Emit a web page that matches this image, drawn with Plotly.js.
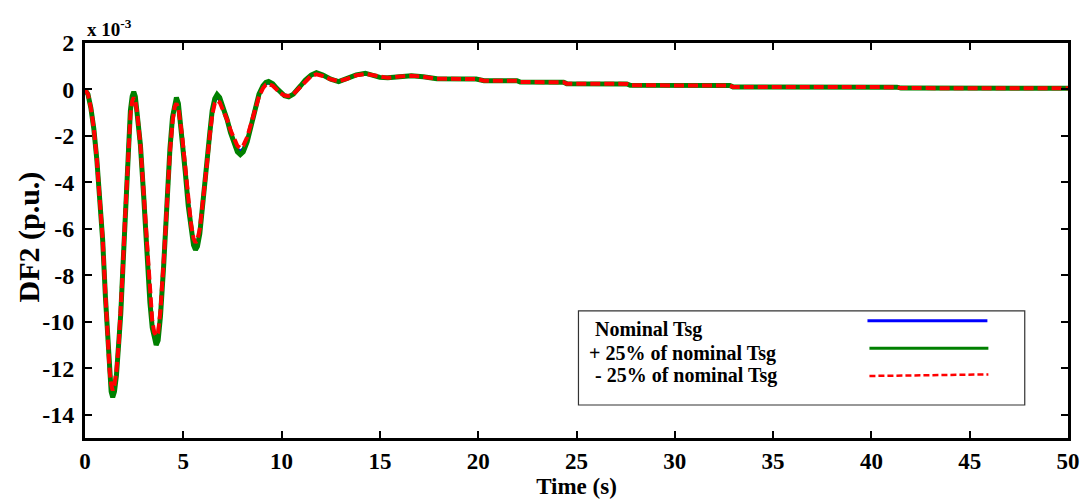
<!DOCTYPE html>
<html>
<head>
<meta charset="utf-8">
<script src="https://cdn.plot.ly/plotly-3.0.1.min.js"></script>
<style>html,body{margin:0;padding:0;background:#fff;}#chart{width:1083px;height:499px;}</style>
</head>
<body>
<div id="chart"></div>
<script>
// Time (s)
const time = [0,0.15,0.3,0.45,0.6,0.75,0.9,1.04,1.15,1.25,1.33,1.41,
1.5,1.6,1.72,1.82,1.92,2.02,2.12,2.22,2.31,2.4,2.48,
2.56,2.66,2.82,2.99,3.16,3.3,3.42,3.52,3.62,
3.72,3.84,4.0,4.18,4.32,4.45,4.56,4.65,
4.75,4.94,5.1,5.25,5.4,5.52,5.62,
5.72,5.84,5.96,6.1,6.21,6.35,6.47,6.6,6.72,
6.85,7.05,7.23,7.4,7.56,7.75,7.9,
8.05,8.25,8.45,8.65,8.85,9.05,9.2,9.34,
9.55,9.75,9.94,10.15,10.36,
10.6,10.96,11.2,11.5,11.77,
12.1,12.5,12.9,
13.3,13.8,14.26,
14.6,15.0,15.4,16.0,16.6,17.2,17.6,17.9,19.9,20.3,21.97,22.14,24.34,24.5,27.56,27.73,32.8,32.96,41.3,41.5,50];

// DF2 (x 10^-3 p.u.) — Nominal Tsg
const nominalTsg = [0,-0.2,-0.8,-1.7,-3.0,-4.6,-6.5,-8.9,-10.8,-12.2,-12.85,-13.1,
-12.85,-12.2,-11.0,-9.6,-7.8,-5.8,-3.8,-2.1,-1.0,-0.4,-0.22,
-0.4,-1.0,-2.4,-4.6,-7.2,-9.0,-10.1,-10.6,-10.8,
-10.6,-9.6,-7.5,-4.6,-2.6,-1.3,-0.65,-0.48,
-0.7,-2.0,-3.5,-4.9,-6.0,-6.55,-6.75,
-6.6,-6.1,-5.2,-4.1,-3.1,-1.9,-1.0,-0.5,-0.35,
-0.45,-0.85,-1.3,-1.8,-2.2,-2.55,-2.66,
-2.55,-2.15,-1.5,-0.8,-0.25,0.1,0.25,0.28,
0.2,0.02,-0.15,-0.27,-0.3,
-0.2,0.13,0.38,0.6,0.68,
0.6,0.44,0.35,
0.45,0.62,0.68,
0.62,0.52,0.5,0.56,0.59,0.55,0.48,0.46,0.45,0.38,0.38,0.32,0.31,0.25,0.24,0.18,0.17,0.11,0.1,0.06,0.05];

// + 25% of nominal Tsg
const plus25Tsg = [0,-0.2,-0.8,-1.7,-3.0,-4.6,-6.5,-8.95,-10.9,-12.3,-13.0,-13.25,
-13.0,-12.3,-11.1,-9.65,-7.8,-5.75,-3.7,-2.0,-0.9,-0.3,-0.1,
-0.3,-0.95,-2.4,-4.65,-7.3,-9.15,-10.25,-10.8,-11.0,
-10.8,-9.75,-7.6,-4.6,-2.55,-1.2,-0.55,-0.35,
-0.6,-2.0,-3.55,-5.0,-6.15,-6.7,-6.9,
-6.75,-6.2,-5.3,-4.1,-3.05,-1.85,-0.9,-0.4,-0.22,
-0.35,-0.8,-1.3,-1.85,-2.3,-2.68,-2.8,
-2.68,-2.25,-1.55,-0.8,-0.2,0.15,0.3,0.34,
0.25,0.05,-0.13,-0.27,-0.32,
-0.2,0.15,0.4,0.62,0.72,
0.62,0.44,0.34,
0.45,0.63,0.7,
0.62,0.52,0.5,0.56,0.59,0.55,0.48,0.46,0.45,0.38,0.38,0.32,0.31,0.25,0.24,0.18,0.17,0.11,0.1,0.06,0.05];

// - 25% of nominal Tsg
const minus25Tsg = [0,-0.2,-0.8,-1.7,-3.0,-4.6,-6.45,-8.85,-10.7,-12.1,-12.7,-12.95,
-12.7,-12.1,-10.9,-9.5,-7.8,-5.85,-3.9,-2.2,-1.1,-0.5,-0.35,
-0.5,-1.05,-2.4,-4.55,-7.1,-8.85,-9.95,-10.45,-10.6,
-10.45,-9.5,-7.45,-4.65,-2.7,-1.4,-0.75,-0.6,
-0.8,-2.0,-3.45,-4.8,-5.85,-6.4,-6.6,
-6.45,-6.0,-5.1,-4.1,-3.15,-1.95,-1.1,-0.6,-0.48,
-0.55,-0.9,-1.3,-1.75,-2.1,-2.42,-2.52,
-2.42,-2.05,-1.45,-0.8,-0.3,0.05,0.2,0.23,
0.16,0.0,-0.16,-0.26,-0.28,
-0.2,0.11,0.36,0.58,0.65,
0.58,0.44,0.36,
0.45,0.61,0.67,
0.62,0.52,0.5,0.56,0.59,0.55,0.48,0.46,0.45,0.38,0.38,0.32,0.31,0.25,0.24,0.18,0.17,0.11,0.1,0.06,0.05];

const xTicks = [0,5,10,15,20,25,30,35,40,45,50];
const yTicks = [2,0,-2,-4,-6,-8,-10,-12,-14];
const seriesNames = ['Nominal Tsg', '+ 25% of nominal Tsg', '- 25% of nominal Tsg'];

const FONT = 'Liberation Serif';

const traces = [
  {x: time, y: nominalTsg, mode: 'lines', name: seriesNames[0], line: {color: '#0000ff', width: 3}},
  {x: time, y: plus25Tsg, mode: 'lines', name: seriesNames[1], line: {color: '#008000', width: 5}},
  {x: time, y: minus25Tsg, mode: 'lines', name: seriesNames[2], line: {color: '#ff0000', width: 4, dash: '10px,4px'}}
];

const layout = {
  width: 1083, height: 499,
  margin: {l: 85, r: 15, t: 43, b: 61},
  paper_bgcolor: '#fff', plot_bgcolor: '#fff',
  font: {family: FONT, size: 22, color: '#000', weight: 700},
  showlegend: false,
  xaxis: {
    showgrid: false, zeroline: false, showline: true, linecolor: '#000', linewidth: 3,
    mirror: 'ticks', ticks: 'inside', ticklen: 7, tickwidth: 2, tickcolor: '#000',
    tickfont: {family: FONT, size: 23, color: '#000', weight: 'bold'}, tickmode: 'array',
    range: [0, 50], tickvals: xTicks, ticktext: xTicks.map(String),
    title: {text: 'Time (s)', font: {family: FONT, size: 23, color: '#000', weight: 700}, standoff: 3}
  },
  yaxis: {
    showgrid: false, zeroline: false, showline: true, linecolor: '#000', linewidth: 3,
    mirror: 'ticks', ticks: 'inside', ticklen: 7, tickwidth: 2, tickcolor: '#000',
    tickfont: {family: FONT, size: 24, color: '#000', weight: 'bold'}, tickmode: 'array',
    range: [-15, 2], tickvals: yTicks, ticktext: yTicks.map(String), ticklabelstandoff: 3
  },
  shapes: [
    {type: 'rect', xref: 'paper', yref: 'paper', x0: 0.502, x1: 0.956, y0: 0.0835, y1: 0.322,
     line: {color: '#333', width: 1.2}, fillcolor: '#fff', layer: 'above'},
    {type: 'line', xref: 'paper', yref: 'paper', x0: 0.796, x1: 0.918, y0: 0.297, y1: 0.297,
     line: {color: '#0000ff', width: 3}},
    {type: 'line', xref: 'paper', yref: 'paper', x0: 0.798, x1: 0.919, y0: 0.227, y1: 0.227,
     line: {color: '#008000', width: 3}},
    {type: 'line', xref: 'paper', yref: 'paper', x0: 0.798, x1: 0.919, y0: 0.157, y1: 0.161,
     line: {color: '#ff0000', width: 2.5, dash: '6px,3px'}}
  ],
  annotations: [
    {xref: 'paper', yref: 'paper', x: 0.517, y: 0.275, xanchor: 'left', yanchor: 'middle', showarrow: false,
     text: seriesNames[0], font: {family: FONT, size: 20, color: '#000', weight: 700}},
    {xref: 'paper', yref: 'paper', x: 0.511, y: 0.214, xanchor: 'left', yanchor: 'middle', showarrow: false,
     text: seriesNames[1], font: {family: FONT, size: 20, color: '#000', weight: 700}},
    {xref: 'paper', yref: 'paper', x: 0.517, y: 0.157, xanchor: 'left', yanchor: 'middle', showarrow: false,
     text: seriesNames[2], font: {family: FONT, size: 20, color: '#000', weight: 700}},
    {xref: 'paper', yref: 'paper', x: -0.057, y: 0.51, xanchor: 'center', yanchor: 'middle', showarrow: false,
     textangle: -90, text: 'DF2 (p.u.)', font: {family: FONT, size: 30, color: '#000', weight: 700}},
    {xref: 'paper', yref: 'paper', x: 0, y: 1, xanchor: 'left', yanchor: 'bottom', yshift: 1, showarrow: false,
     text: 'x 10<sup>-3</sup>', font: {family: FONT, size: 19, color: '#000', weight: 700}},
    {xref: 'paper', yref: 'paper', x: 0.473, y: 1, xanchor: 'center', yanchor: 'bottom', yshift: 41, showarrow: false,
     text: '(b)', font: {family: FONT, size: 20, color: '#000', weight: 700}}
  ]
};

Plotly.newPlot('chart', traces, layout, {displayModeBar: false, staticPlot: true});
</script>
</body>
</html>
